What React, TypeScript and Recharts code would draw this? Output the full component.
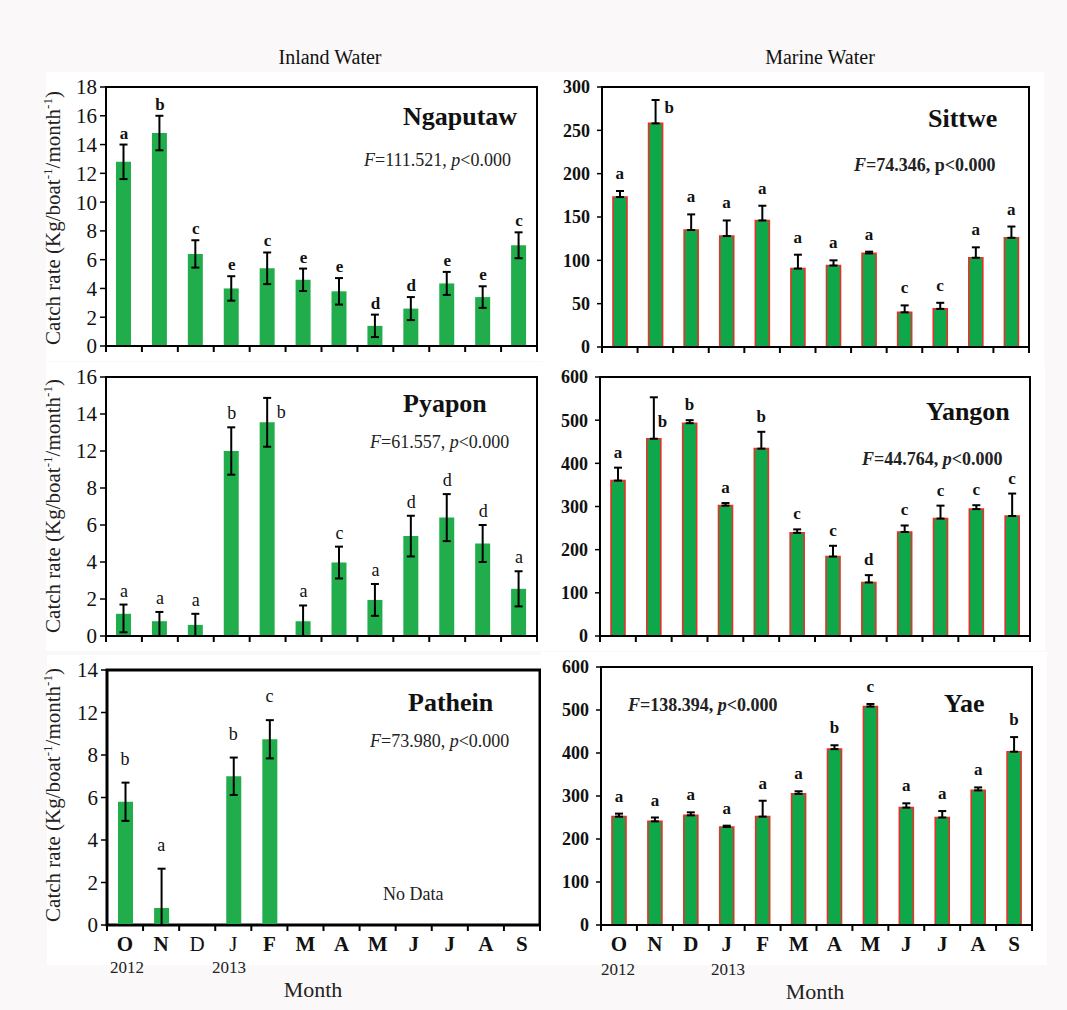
import React from 'react';
import { ComposedChart, Bar, Line, XAxis, YAxis, ErrorBar, LabelList, ReferenceArea } from 'recharts';

const FONT = "'Liberation Serif', 'Times New Roman', Times, serif";

// ---------- shared categories ----------
const months = ['O', 'N', 'D', 'J', 'F', 'M', 'A', 'M', 'J', 'J', 'A', 'S'];

// ---------- Inland: Ngaputaw ----------
const ngaputawValues = [12.8, 14.8, 6.4, 4.0, 5.4, 4.6, 3.8, 1.4, 2.6, 4.35, 3.4, 7.0];
const ngaputawErrors = [1.2, 1.2, 0.95, 0.85, 1.1, 0.78, 0.92, 0.78, 0.8, 0.8, 0.75, 0.9];
const ngaputawLetters = ['a', 'b', 'c', 'e', 'c', 'e', 'e', 'd', 'd', 'e', 'e', 'c'];
const ngaputawTicks = [0, 2, 4, 6, 8, 10, 12, 14, 16, 18];
const ngaputawTickLabels = ['0', '2', '4', '6', '8', '10', '12', '14', '16', '18'];

// ---------- Inland: Pyapon (values in drawn-axis units; the printed axis skips "10") ----------
const pyaponValues = [1.2, 0.8, 0.6, 10.0, 11.55, 0.8, 3.97, 1.95, 5.4, 6.4, 5.0, 2.55];
const pyaponErrors: (number | [number, number])[] = [[1.0, 0.5], [0.8, 0.5], [0.6, 0.6], 1.28, 1.32, [0.8, 0.85], 0.86, 0.86, 1.1, 1.27, 1.0, 0.95];
const pyaponLetters = ['a', 'a', 'a', 'b', 'b', 'a', 'c', 'a', 'd', 'd', 'd', 'a'];
const pyaponTicks = [0, 2, 4, 6, 8, 10, 12, 14];
const pyaponTickLabels = ['0', '2', '4', '6', '8', '12', '14', '16'];

// ---------- Inland: Pathein (values in drawn-axis units; the printed axis skips "10") ----------
const patheinValues = [5.8, 0.8, null, 7.0, 8.74, null, null, null, null, null, null, null];
const patheinErrors: (number | [number, number] | null)[] = [0.9, [0.8, 1.85], null, 0.88, 0.9, null, null, null, null, null, null, null];
const patheinLetters = ['b', 'a', '', 'b', 'c', '', '', '', '', '', '', ''];
const patheinTicks = [0, 2, 4, 6, 8, 10, 12];
const patheinTickLabels = ['0', '2', '4', '6', '8', '12', '14'];

// ---------- Marine: Sittwe ----------
const sittweValues = [173, 258, 135, 128, 146, 90.5, 94, 108, 40, 44, 103, 126];
const sittweErrors: [number, number][] = [[0, 7], [0, 27], [0, 18], [0, 18], [0, 17], [0, 16], [0, 6], [0, 2], [0, 8], [0, 7], [0, 12], [0, 13]];
const sittweLetters = ['a', 'b', 'a', 'a', 'a', 'a', 'a', 'a', 'c', 'c', 'a', 'a'];
const sittweTicks = [0, 50, 100, 150, 200, 250, 300];
const sittweTickLabels = ['0', '50', '100', '150', '200', '250', '300'];

// ---------- Marine: Yangon ----------
const yangonValues = [360, 457, 493, 302, 434, 239, 184, 124, 241, 272, 294, 278];
const yangonErrors: [number, number][] = [[0, 30], [0, 96], [0, 7], [0, 6], [0, 39], [0, 8], [0, 25], [0, 17], [0, 15], [0, 30], [0, 9], [0, 52]];
const yangonLetters = ['a', 'b', 'b', 'a', 'b', 'c', 'c', 'd', 'c', 'c', 'c', 'c'];
const yangonTicks = [0, 100, 200, 300, 400, 500, 600];
const yangonTickLabels = ['0', '100', '200', '300', '400', '500', '600'];

// ---------- Marine: Yae ----------
const yaeValues = [252, 241, 255, 228, 252, 305, 409, 508, 273, 250, 313, 403];
const yaeErrors: [number, number][] = [[0, 7], [0, 9], [0, 7], [0, 3], [0, 37], [0, 6], [0, 9], [0, 6], [0, 10], [0, 15], [0, 7], [0, 34]];
const yaeLetters = ['a', 'a', 'a', 'a', 'a', 'a', 'b', 'c', 'a', 'a', 'a', 'b'];
const yaeTicks = [0, 100, 200, 300, 400, 500, 600];
const yaeTickLabels = ['0', '100', '200', '300', '400', '500', '600'];

type Err = number | [number, number] | null;

interface PanelCfg {
  plot: { l: number; t: number; r: number; b: number };
  values: (number | null)[];
  errors: Err[];
  letters: string[];
  ticks: number[];
  tickLabels: string[];
  marine: boolean;
  bottom: boolean;
  letterGap: number;
  letterBold: boolean;
  letterSize: number;
  tickSize: number;
  tickBold: boolean;
  frameWidth: number;
  beside: Record<number, { dx: number; dy: number }>;
  regularX?: number[];
}

const INLAND_GREEN = '#22ad4c';
const MARINE_GREEN = '#0ea84a';
const MARINE_RED = '#e2332b';

function Panel({ cfg }: { cfg: PanelCfg }) {
  const { plot } = cfg;
  const YW = 60;
  const TOPM = 15;
  const RIGHTM = 15;
  const XH = cfg.bottom ? 40 : 15;
  const pw = plot.r - plot.l;
  const ph = plot.b - plot.t;
  const width = pw + YW + RIGHTM;
  const height = ph + TOPM + XH;
  const bw = pw / months.length;
  const maxY = cfg.ticks[cfg.ticks.length - 1];

  const data = months.map((m, i) => {
    const v = cfg.values[i];
    const e = cfg.errors[i];
    const hi = e == null ? 0 : Array.isArray(e) ? e[1] : e;
    return {
      key: `m${i}`,
      month: m,
      value: v,
      err: v == null ? undefined : e,
      top: v == null ? null : v + hi,
      letter: cfg.letters[i],
    };
  });

  const XTick = (props: any) => {
    const { x, y } = props;
    const index = props.index ?? props.payload?.index ?? 0;
    const half = bw / 2;
    const regular = cfg.regularX ? cfg.regularX.includes(index) : false;
    return (
      <g>
        <line x1={x - half} x2={x - half} y1={y} y2={y + 6} stroke="#000" strokeWidth={2} />
        {index === months.length - 1 && (
          <line x1={x + half} x2={x + half} y1={y} y2={y + 6} stroke="#000" strokeWidth={2} />
        )}
        {cfg.bottom && (
          <text x={x} y={y + 26} textAnchor="middle" fontSize={21} fontWeight={regular ? 400 : 700} fontFamily={FONT} fill="#111">
            {months[index]}
          </text>
        )}
      </g>
    );
  };

  const renderLetter = (props: any) => {
    const { x, y, value, index } = props;
    if (x == null || y == null || !value || !isFinite(y)) return null;
    const b = cfg.beside[index];
    const common = {
      fontSize: cfg.letterSize,
      fontWeight: cfg.letterBold ? 700 : 400,
      fontFamily: FONT,
      fill: '#111',
    };
    if (b) {
      return (
        <text x={x + b.dx} y={y + b.dy} textAnchor="start" {...common}>
          {value}
        </text>
      );
    }
    return (
      <text x={x} y={y - cfg.letterGap} textAnchor="middle" {...common}>
        {value}
      </text>
    );
  };

  return (
    <div
      style={{
        position: 'absolute',
        left: plot.l - YW,
        top: plot.t - TOPM,
        width,
        height,
        background: '#fff',
      }}
    >
      <ComposedChart
        width={width}
        height={height}
        data={data}
        margin={{ top: TOPM, right: RIGHTM, left: 0, bottom: 0 }}
        barCategoryGap={0}
      >
        <XAxis
          dataKey="key"
          type="category"
          interval={0}
          height={XH}
          axisLine={{ stroke: '#000', strokeWidth: 2 }}
          tickLine={false}
          tickSize={0}
          tickMargin={0}
          tick={<XTick />}
        />
        <YAxis
          type="number"
          width={YW}
          domain={[0, maxY]}
          ticks={cfg.ticks}
          interval={0}
          axisLine={{ stroke: '#000', strokeWidth: 2 }}
          tickLine={{ stroke: '#000', strokeWidth: 1.5 }}
          tickSize={cfg.marine ? 5 : 6}
          tickMargin={cfg.marine ? 7 : 3}
          tickFormatter={(v: number) => cfg.tickLabels[cfg.ticks.indexOf(v)] ?? String(v)}
          tick={{
            fontSize: cfg.tickSize,
            fontWeight: cfg.tickBold ? 700 : 400,
            fontFamily: FONT,
            fill: '#111',
          }}
        />
        <ReferenceArea
          y1={0}
          y2={maxY}
          fill="none"
          fillOpacity={0}
          stroke="#000"
          strokeWidth={cfg.frameWidth}
          ifOverflow="visible"
        />
        <Bar
          dataKey="value"
          barSize={cfg.marine ? 14 : 15}
          fill={cfg.marine ? MARINE_GREEN : INLAND_GREEN}
          stroke={cfg.marine ? MARINE_RED : 'none'}
          strokeWidth={cfg.marine ? 1.6 : 0}
          isAnimationActive={false}
        >
          <ErrorBar dataKey="err" width={4} stroke="#000" strokeWidth={2} direction="y" isAnimationActive={false} />
        </Bar>
        <Line
          dataKey="top"
          stroke="none"
          dot={false}
          activeDot={false}
          legendType="none"
          isAnimationActive={false}
          connectNulls={false}
        >
          <LabelList dataKey="letter" content={renderLetter} />
        </Line>
      </ComposedChart>
    </div>
  );
}

const panels: { cfg: PanelCfg }[] = [
  {
    cfg: {
      plot: { l: 106, t: 87, r: 537, b: 346 },
      values: ngaputawValues, errors: ngaputawErrors, letters: ngaputawLetters,
      ticks: ngaputawTicks, tickLabels: ngaputawTickLabels,
      marine: false, bottom: false, letterGap: 6, letterBold: true, letterSize: 17,
      tickSize: 21, tickBold: false, frameWidth: 2, beside: {},
    },
  },
  {
    cfg: {
      plot: { l: 106, t: 377, r: 537, b: 636 },
      values: pyaponValues, errors: pyaponErrors, letters: pyaponLetters,
      ticks: pyaponTicks, tickLabels: pyaponTickLabels,
      marine: false, bottom: false, letterGap: 8, letterBold: false, letterSize: 18,
      tickSize: 21, tickBold: false, frameWidth: 2, beside: { 4: { dx: 9, dy: 20 } },
    },
  },
  {
    cfg: {
      plot: { l: 107, t: 670, r: 540, b: 925 },
      values: patheinValues, errors: patheinErrors, letters: patheinLetters,
      ticks: patheinTicks, tickLabels: patheinTickLabels,
      marine: false, bottom: true, letterGap: 18, letterBold: false, letterSize: 18,
      tickSize: 21, tickBold: false, frameWidth: 3, beside: {}, regularX: [2, 3],
    },
  },
  {
    cfg: {
      plot: { l: 602, t: 87, r: 1029, b: 347 },
      values: sittweValues, errors: sittweErrors, letters: sittweLetters,
      ticks: sittweTicks, tickLabels: sittweTickLabels,
      marine: true, bottom: false, letterGap: 12, letterBold: true, letterSize: 17,
      tickSize: 18, tickBold: true, frameWidth: 2, beside: { 1: { dx: 9, dy: 13 } },
    },
  },
  {
    cfg: {
      plot: { l: 600, t: 377, r: 1030, b: 636 },
      values: yangonValues, errors: yangonErrors, letters: yangonLetters,
      ticks: yangonTicks, tickLabels: yangonTickLabels,
      marine: true, bottom: false, letterGap: 10, letterBold: true, letterSize: 17,
      tickSize: 18, tickBold: true, frameWidth: 2, beside: { 1: { dx: 4, dy: 30 } },
    },
  },
  {
    cfg: {
      plot: { l: 601, t: 667, r: 1032, b: 925 },
      values: yaeValues, errors: yaeErrors, letters: yaeLetters,
      ticks: yaeTicks, tickLabels: yaeTickLabels,
      marine: true, bottom: true, letterGap: 12, letterBold: true, letterSize: 17,
      tickSize: 18, tickBold: true, frameWidth: 2, beside: {},
    },
  },
];

const YLabel = ({ cx, cy }: { cx: number; cy: number }) => (
  <text
    transform={`translate(${cx},${cy}) rotate(-90)`}
    textAnchor="middle"
    fontSize={21}
    fontFamily={FONT}
    fill="#222"
  >
    Catch rate (Kg/boat<tspan dy={-8} fontSize={13}>-1</tspan>
    <tspan dy={8}>/month</tspan>
    <tspan dy={-8} fontSize={13}>-1</tspan>
    <tspan dy={8}>)</tspan>
  </text>
);

const Stat = ({ x, y, f, p, pItalic, bold }: { x: number; y: number; f: string; p: string; pItalic: boolean; bold: boolean }) => (
  <text x={x} y={y} fontSize={18} fontFamily={FONT} fill="#222" fontWeight={bold ? 700 : 400}>
    <tspan fontStyle="italic">F</tspan>
    {`=${f}, `}
    <tspan fontStyle={pItalic ? 'italic' : 'normal'}>p</tspan>
    {`<${p}`}
  </text>
);

const Title = ({ x, y, t }: { x: number; y: number; t: string }) => (
  <text x={x} y={y} fontSize={26} fontWeight={700} fontFamily={FONT} fill="#111">
    {t}
  </text>
);

export default function App() {
  return (
    <div
      style={{
        position: 'absolute',
        left: 0,
        top: 0,
        width: 1067,
        height: 1010,
        background: '#faf8f8',
        overflow: 'hidden',
        fontFamily: FONT,
      }}
    >
      {panels.map((p, i) => (
        <Panel key={i} cfg={p.cfg} />
      ))}
      <svg
        width={1067}
        height={1010}
        style={{ position: 'absolute', left: 0, top: 0, pointerEvents: 'none' }}
      >
        <text x={330} y={64} textAnchor="middle" fontSize={20} fontFamily={FONT} fill="#111">Inland Water</text>
        <text x={820} y={64} textAnchor="middle" fontSize={20} fontFamily={FONT} fill="#111">Marine Water</text>

        <YLabel cx={60} cy={218} />
        <YLabel cx={60} cy={506} />
        <YLabel cx={60} cy={795} />

        <Title x={403} y={125} t="Ngaputaw" />
        <Stat x={364} y={166} f="111.521" p="0.000" pItalic bold={false} />
        <Title x={403} y={412} t="Pyapon" />
        <Stat x={370} y={448} f="61.557" p="0.000" pItalic bold={false} />
        <Title x={408} y={711} t="Pathein" />
        <Stat x={370} y={747} f="73.980" p="0.000" pItalic bold={false} />
        <text x={383} y={900} fontSize={18} fontFamily={FONT} fill="#222">No Data</text>

        <Title x={928} y={127} t="Sittwe" />
        <Stat x={854} y={171} f="74.346" p="0.000" pItalic={false} bold />
        <Title x={926} y={420} t="Yangon" />
        <Stat x={862} y={465} f="44.764" p="0.000" pItalic bold />
        <Title x={944} y={712} t="Yae" />
        <Stat x={628} y={711} f="138.394" p="0.000" pItalic bold />

        <text x={127} y={973} textAnchor="middle" fontSize={17} fontFamily={FONT} fill="#222">2012</text>
        <text x={229} y={973} textAnchor="middle" fontSize={17} fontFamily={FONT} fill="#222">2013</text>
        <text x={313} y={997} textAnchor="middle" fontSize={22} fontFamily={FONT} fill="#222">Month</text>

        <text x={618} y={975} textAnchor="middle" fontSize={17} fontFamily={FONT} fill="#222">2012</text>
        <text x={728} y={975} textAnchor="middle" fontSize={17} fontFamily={FONT} fill="#222">2013</text>
        <text x={815} y={999} textAnchor="middle" fontSize={22} fontFamily={FONT} fill="#222">Month</text>
      </svg>
    </div>
  );
}
